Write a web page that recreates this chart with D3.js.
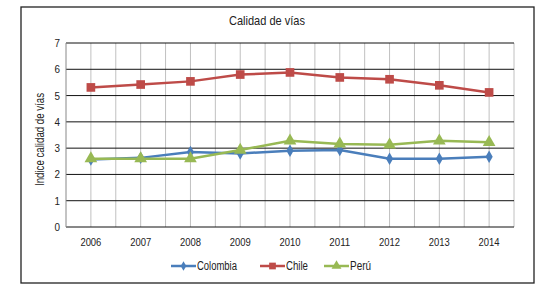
<!DOCTYPE html>
<html><head><meta charset="utf-8">
<script src="https://cdn.jsdelivr.net/npm/d3@7"></script>
<style>body{margin:0;background:#fff}svg{display:block}text{font-family:"Liberation Sans",Arial,sans-serif;fill:#222}</style>
</head><body>
<script>
const years = ["2006","2007","2008","2009","2010","2011","2012","2013","2014"];
const colombia = [2.57,2.63,2.85,2.8,2.9,2.93,2.6,2.6,2.67];
const chile = [5.31,5.42,5.54,5.8,5.88,5.69,5.62,5.39,5.12];
const peru = [2.6,2.6,2.6,2.93,3.28,3.16,3.13,3.28,3.22];
const yTicks = [0,1,2,3,4,5,6,7];
const seriesNames = ["Colombia","Chile","Perú"];
const colors = ["#4a7ebb","#be4b48","#98b954"];
const symbols = [d3.symbolDiamond, d3.symbolSquare, d3.symbolTriangle];
const symSizes = [45, 75, 70];
const series = [colombia, chile, peru];

const W=543,H=295;
const svg=d3.select("body").append("svg").attr("width",W).attr("height",H);
svg.append("rect").attr("x",21).attr("y",7).attr("width",513).attr("height",276).attr("fill","#fff").attr("stroke","#222").attr("stroke-width",1.3);

const L=66,R=514,T=43,B=227;
const x=d3.scaleBand().domain(years).range([L,R]);
const y=d3.scaleLinear().domain([0,7]).range([B,T]);

const vx=[];
years.forEach(d=>{vx.push(x(d));vx.push(x(d)+x.bandwidth()/2);});
vx.push(R);
svg.append("g").selectAll("line").data(vx.slice(1)).join("line")
 .attr("x1",d=>d).attr("x2",d=>d).attr("y1",T).attr("y2",B).attr("stroke","#c0c0c0").attr("stroke-width",1);
svg.append("g").selectAll("line").data(yTicks).join("line")
 .attr("x1",L).attr("x2",R).attr("y1",d=>y(d)).attr("y2",d=>y(d)).attr("stroke","#111").attr("stroke-width",1);
svg.append("line").attr("x1",L).attr("x2",L).attr("y1",T).attr("y2",B).attr("stroke","#888");

svg.append("g").selectAll("text").data(yTicks).join("text")
 .attr("x",L-6).attr("y",d=>y(d)+4).attr("text-anchor","end").attr("font-size",11.5)
 .attr("textLength",5.5).attr("lengthAdjust","spacingAndGlyphs").text(d=>d);
svg.append("g").selectAll("text").data(years).join("text")
 .attr("x",d=>x(d)+x.bandwidth()/2-10.5).attr("y",246).attr("font-size",11.5)
 .attr("textLength",21).attr("lengthAdjust","spacingAndGlyphs").text(d=>d);

svg.append("text").attr("x",229).attr("y",25).attr("font-size",13.5)
 .attr("textLength",76).attr("lengthAdjust","spacingAndGlyphs").text("Calidad de vías");
svg.append("text").attr("transform","translate(44,186) rotate(-90)").attr("font-size",12)
 .attr("textLength",93).attr("lengthAdjust","spacingAndGlyphs").text("Indice calidad de vías");

const line=d3.line().x((d,i)=>x(years[i])+x.bandwidth()/2).y(d=>y(d));
series.forEach((s,k)=>{
 svg.append("path").datum(s).attr("d",line).attr("fill","none").attr("stroke",colors[k]).attr("stroke-width",2.5);
 svg.append("g").selectAll("path").data(s).join("path")
  .attr("transform",(d,i)=>`translate(${x(years[i])+x.bandwidth()/2},${y(d)})`)
  .attr("d",d3.symbol().type(symbols[k]).size(symSizes[k])).attr("fill",colors[k]);
});

const lx=[171,260,324];
const lw=[40,22,21];
seriesNames.forEach((n,k)=>{
 const g=svg.append("g");
 g.append("line").attr("x1",lx[k]).attr("x2",lx[k]+25).attr("y1",266).attr("y2",266).attr("stroke",colors[k]).attr("stroke-width",2.5);
 g.append("path").attr("transform",`translate(${lx[k]+12.5},266)`).attr("d",d3.symbol().type(symbols[k]).size(symSizes[k]*0.6)).attr("fill",colors[k]);
 g.append("text").attr("x",lx[k]+26).attr("y",270).attr("font-size",12)
  .attr("textLength",lw[k]).attr("lengthAdjust","spacingAndGlyphs").text(n);
});
</script>
</body></html>
